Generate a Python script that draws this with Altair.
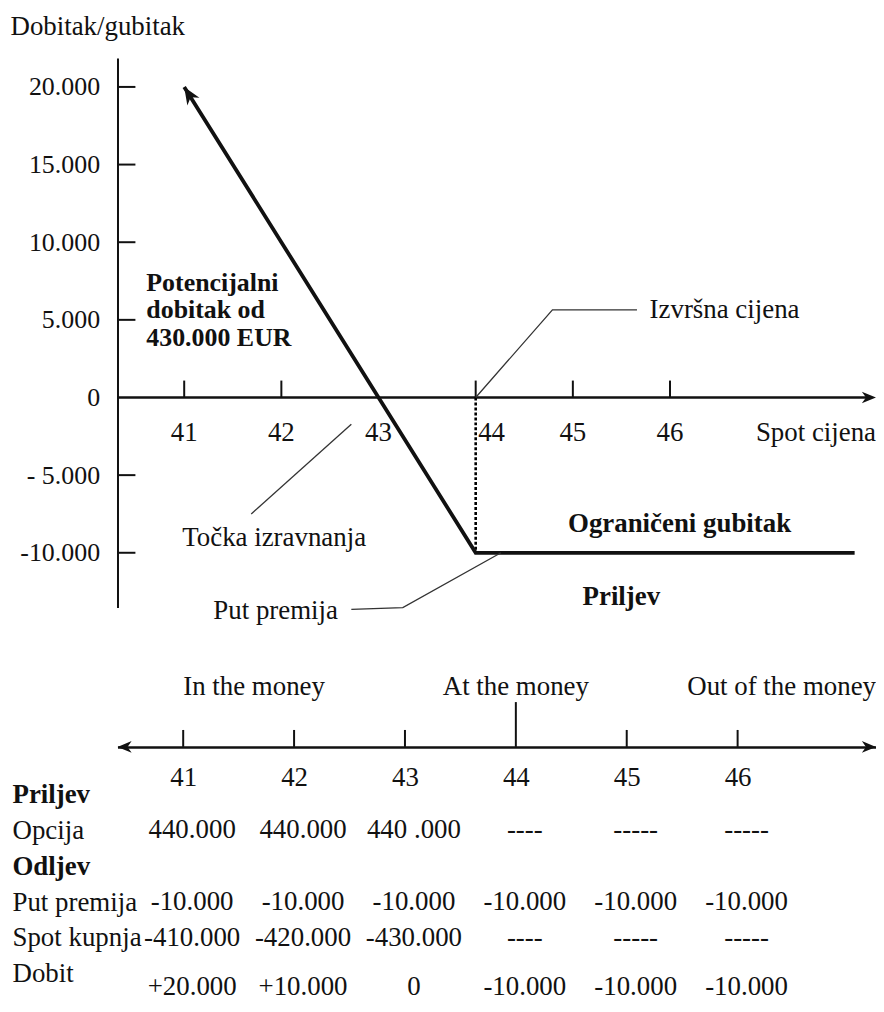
import math
import altair as alt
import pandas as pd

FONT = "'Liberation Serif', 'Times New Roman', Times, 'DejaVu Serif', serif"
FS = 27
FSA = 26
INK = "#111111"
LEAD = "#333333"
ARROW = "M0,0L0.7,1.7L0,1.2L-0.7,1.7Z"

# ---------------- values ----------------
spot_ticks = [41, 42, 43, 44, 45, 46]
profit_ticks = [20000, 15000, 10000, 5000, 0, -5000, -10000]
profit_tick_labels = ["20.000", "15.000", "10.000", "5.000", "0", "- 5.000", "-10.000"]
payoff_spot = [41, 42, 43, 44, 47.9]
payoff_profit = [20000, 10000, 0, -10000, -10000]
strike = 44
break_even = 43
max_loss = -10000

note_text = ["Izvršna cijena", "Točka izravnanja", "Put premija"]
note_x = [45.79, 40.98, 41.30]
note_y = [5640, -9040, -13780]
bold_text = ["Ograničeni gubitak", "Priljev"]
bold_x = [44.95, 45.10]
bold_y = [-8140, -12880]
gain_text = "Potencijalni\ndobitak od\n430.000 EUR"
gain_x = 40.61
gain_y = 6860
leader_x = [[44, 44.79, 45.66], [42.72, 41.69], [42.72, 43.25, 44.26]]
leader_y = [[0, 5640, 5640], [-1730, -7500], [-13650, -13530, -10000]]

moneyness = ["In the money", "At the money", "Out of the money"]

table_rows = ["Priljev", "Opcija", "Odljev", "Put premija", "Spot kupnja", "Dobit"]
opcija = ["440.000", "440.000", "440 .000", "----", "-----", "-----"]
put_premija = ["-10.000", "-10.000", "-10.000", "-10.000", "-10.000", "-10.000"]
spot_kupnja = ["-410.000", "-420.000", "-430.000", "----", "-----", "-----"]
dobit = ["+20.000", "+10.000", "0", "-10.000", "-10.000", "-10.000"]

# ---------------- top panel: payoff diagram ----------------
W = 762
X1 = [40.3135, 48.12]
Y1 = [-13526, 21859]
H1 = 552
k1 = W / (X1[1] - X1[0])      # px per spot unit
m1 = H1 / (Y1[1] - Y1[0])     # px per profit unit

xs1 = alt.Scale(domain=X1, nice=False, zero=False)
ys1 = alt.Scale(domain=Y1, nice=False, zero=False)


def lab_expr(vals, labs):
    e = "''"
    for v, l in zip(reversed(vals), reversed(labs)):
        e = f"datum.value == {v} ? '{l}' : {e}"
    return e


yaxis1 = alt.Axis(
    values=profit_ticks, labelExpr=lab_expr(profit_ticks, profit_tick_labels),
    ticks=False, tickSize=0, grid=False, domainColor=INK, domainWidth=2,
    labelFont=FONT, labelFontSize=FSA, labelColor=INK, labelPadding=18,
    labelAlign="right", labelOverlap=False,
    title="Dobitak/gubitak", titleAngle=0, titleAlign="left", titleBaseline="alphabetic",
    titleX=-108, titleY=-24, titleFont=FONT, titleFontSize=FS,
    titleFontWeight="normal", titleColor=INK,
)


def X_1(f):
    return alt.X(f, type="quantitative", scale=xs1, axis=None)


def Y_1(f):
    return alt.Y(f, type="quantitative", scale=ys1, axis=yaxis1)


ytick_df = pd.DataFrame({"x": X1[0], "x2": X1[0] + 18 / k1,
                         "y": [v for v in profit_ticks if v != 0]})
l_ytick = alt.Chart(ytick_df).mark_rule(color=INK, strokeWidth=2).encode(
    x=X_1("x"), x2="x2", y=Y_1("y"))

xline_df = pd.DataFrame({"x": [X1[0]], "x2": [X1[1] - 8 / k1], "y": [0]})
l_xline = alt.Chart(xline_df).mark_rule(color=INK, strokeWidth=2.5).encode(
    x=X_1("x"), x2="x2", y=Y_1("y"))

xarrow_df = pd.DataFrame({"x": [X1[1]], "y": [0]})
l_xarrow = alt.Chart(xarrow_df).mark_point(
    shape=ARROW, filled=True, size=280, color=INK, opacity=1, angle=90
).encode(x=X_1("x"), y=Y_1("y"))

xtick_df = pd.DataFrame({"x": [s for s in spot_ticks if s != break_even], "y": 0, "y2": 17 / m1})
l_xtick = alt.Chart(xtick_df).mark_rule(color=INK, strokeWidth=2).encode(
    x=X_1("x"), y=Y_1("y"), y2="y2")

xlab_df = pd.DataFrame({"x": [s for s in spot_ticks if s != strike], "y": -36 / m1,
                        "t": [str(s) for s in spot_ticks if s != strike]})
l_xlab = alt.Chart(xlab_df).mark_text(font=FONT, fontSize=FS, color=INK, baseline="middle").encode(
    x=X_1("x"), y=Y_1("y"), text="t")
xlab44_df = pd.DataFrame({"x": [strike], "y": [-36 / m1], "t": [str(strike)]})
l_xlab44 = alt.Chart(xlab44_df).mark_text(font=FONT, fontSize=FS, color=INK, baseline="middle",
                                          dx=16).encode(x=X_1("x"), y=Y_1("y"), text="t")

spot_df = pd.DataFrame({"x": [X1[1]], "y": [-36 / m1], "t": ["Spot cijena"]})
l_spot = alt.Chart(spot_df).mark_text(font=FONT, fontSize=FS, color=INK, align="right",
                                      baseline="middle").encode(x=X_1("x"), y=Y_1("y"), text="t")

payoff_df = pd.DataFrame({"x": payoff_spot, "y": payoff_profit})
l_payoff = alt.Chart(payoff_df).mark_line(color=INK, strokeWidth=3.8, strokeJoin="miter").encode(
    x=X_1("x"), y=Y_1("y"))

ang = math.degrees(math.atan2((payoff_spot[0] - payoff_spot[1]) * k1,
                              (payoff_profit[0] - payoff_profit[1]) * m1)) % 360
parrow_df = pd.DataFrame({"x": [payoff_spot[0]], "y": [payoff_profit[0]]})
l_parrow = alt.Chart(parrow_df).mark_point(
    shape=ARROW, filled=True, size=420, color=INK, opacity=1, angle=ang
).encode(x=X_1("x"), y=Y_1("y"))

dot_df = pd.DataFrame({"x": [strike], "y": [0], "y2": [max_loss]})
l_dot = alt.Chart(dot_df).mark_rule(color="#000000", strokeWidth=2.6, strokeDash=[3, 2]).encode(
    x=X_1("x"), y=Y_1("y"), y2="y2")

lead_rows = []
for gi, (lx, ly) in enumerate(zip(leader_x, leader_y)):
    for oi, (a, b) in enumerate(zip(lx, ly)):
        lead_rows.append({"g": gi, "o": oi, "x": a, "y": b})
lead_df = pd.DataFrame(lead_rows)
l_lead = alt.Chart(lead_df).mark_line(color=LEAD, strokeWidth=1.3).encode(
    x=X_1("x"), y=Y_1("y"), detail="g:N", order="o:Q")

note_df = pd.DataFrame({"x": note_x, "y": note_y, "t": note_text})
l_note = alt.Chart(note_df).mark_text(font=FONT, fontSize=FS, color=INK, align="left",
                                      baseline="middle").encode(x=X_1("x"), y=Y_1("y"), text="t")

bold_df = pd.DataFrame({"x": bold_x, "y": bold_y, "t": bold_text})
l_bold = alt.Chart(bold_df).mark_text(font=FONT, fontSize=FS, fontWeight="bold", color=INK,
                                      align="left", baseline="middle").encode(
    x=X_1("x"), y=Y_1("y"), text="t")

gain_df = pd.DataFrame({"x": [gain_x], "y": [gain_y], "t": [gain_text]})
l_gain = alt.Chart(gain_df).mark_text(font=FONT, fontSize=26, fontWeight="bold", color=INK,
                                      align="left", baseline="alphabetic", lineBreak="\n",
                                      lineHeight=27.5).encode(
    x=X_1("x"), y=Y_1("y"), text="t")

top = alt.layer(l_ytick, l_xline, l_xarrow, l_xtick, l_xlab, l_xlab44, l_spot, l_dot, l_payoff,
                l_parrow, l_lead, l_note, l_bold, l_gain).properties(width=W, height=H1)

# ---------------- middle panel: moneyness number line ----------------
X2 = [40.4075, 47.248]
H2 = 140
xs2 = alt.Scale(domain=X2, nice=False, zero=False)
ys2 = alt.Scale(domain=[0, H2], nice=False, zero=False)
xaxis2 = alt.Axis(values=spot_ticks, format="d", ticks=False, tickSize=0, grid=False,
                  domainColor=INK, domainWidth=2.5, labelFont=FONT, labelFontSize=FS,
                  labelColor=INK, labelPadding=18, labelFlush=False, labelOverlap=False,
                  title=None)


def X_2(f):
    return alt.X(f, type="quantitative", scale=xs2, axis=xaxis2)


def Y_2(f):
    return alt.Y(f, type="quantitative", scale=ys2, axis=None)


mt_df = pd.DataFrame({"x": [s for s in spot_ticks if s != strike], "y": 0, "y2": 17})
m_ticks = alt.Chart(mt_df).mark_rule(color=INK, strokeWidth=2).encode(
    x=X_2("x"), y=Y_2("y"), y2="y2")
ms_df = pd.DataFrame({"x": [strike], "y": [0], "y2": [45]})
m_strike = alt.Chart(ms_df).mark_rule(color=INK, strokeWidth=2).encode(
    x=X_2("x"), y=Y_2("y"), y2="y2")
ma_df = pd.DataFrame({"x": [X2[0], X2[1]], "y": [0, 0], "a": [270, 90]})
m_arrows = alt.Chart(ma_df).mark_point(shape=ARROW, filled=True, size=280, color=INK,
                                       opacity=1).encode(
    x=X_2("x"), y=Y_2("y"), angle=alt.Angle("a:Q", scale=None))
m_in = alt.Chart(pd.DataFrame({"x": [spot_ticks[0]], "y": [60], "t": [moneyness[0]]})).mark_text(
    font=FONT, fontSize=FS, color=INK, align="left", baseline="middle").encode(
    x=X_2("x"), y=Y_2("y"), text="t")
m_at = alt.Chart(pd.DataFrame({"x": [strike], "y": [60], "t": [moneyness[1]]})).mark_text(
    font=FONT, fontSize=FS, color=INK, align="center", baseline="middle").encode(
    x=X_2("x"), y=Y_2("y"), text="t")
m_out = alt.Chart(pd.DataFrame({"x": [X2[1]], "y": [60], "t": [moneyness[2]]})).mark_text(
    font=FONT, fontSize=FS, color=INK, align="right", baseline="middle").encode(
    x=X_2("x"), y=Y_2("y"), text="t")

middle = alt.layer(m_ticks, m_strike, m_arrows, m_in, m_at, m_out).properties(width=W, height=H2)

# ---------------- bottom panel: cash-flow table ----------------
H3 = 232
ys3 = alt.Scale(type="point", domain=table_rows, padding=0.722, align=0.923)
yaxis3 = alt.Axis(labelAlign="left", labelPadding=106, ticks=False, tickSize=0, domain=False,
                  grid=False, labelFont=FONT, labelFontSize=FS, labelColor=INK,
                  labelFontWeight={"condition": {"test": "datum.value == 'Priljev' || datum.value == 'Odljev'",
                                                 "value": "bold"}, "value": "normal"},
                  labelLimit=300, labelOverlap=False, title=None)


def X_3(f):
    return alt.X(f, type="quantitative", scale=xs2, axis=None)


def Y_3(f):
    return alt.Y(f, type="ordinal", scale=ys3, axis=yaxis3)


cells = []
for rname, vals in [("Opcija", opcija), ("Put premija", put_premija),
                    ("Spot kupnja", spot_kupnja), ("Dobit", dobit)]:
    for s, v in zip(spot_ticks, vals):
        cells.append({"row": rname, "x": s, "t": v})
cell_df = pd.DataFrame(cells)

t_main = alt.Chart(cell_df[cell_df.row != "Dobit"]).mark_text(
    font=FONT, fontSize=FS, color=INK, baseline="middle", dx=9).encode(
    x=X_3("x"), y=Y_3("row"), text="t")
t_dobit = alt.Chart(cell_df[cell_df.row == "Dobit"]).mark_text(
    font=FONT, fontSize=FS, color=INK, baseline="middle", dx=9, dy=13).encode(
    x=X_3("x"), y=Y_3("row"), text="t")

table = alt.layer(t_main, t_dobit).properties(width=W, height=H3)

chart = alt.vconcat(top, middle, table, spacing=0, bounds="flush").resolve_scale(
    x="independent", y="independent"
).properties(
    padding={"left": 2, "top": 2, "right": 0, "bottom": 0}, background="white"
).configure(font=FONT).configure_view(stroke="transparent", strokeWidth=0)

chart.save("out.html", embed_options={"renderer": "svg", "actions": False})
